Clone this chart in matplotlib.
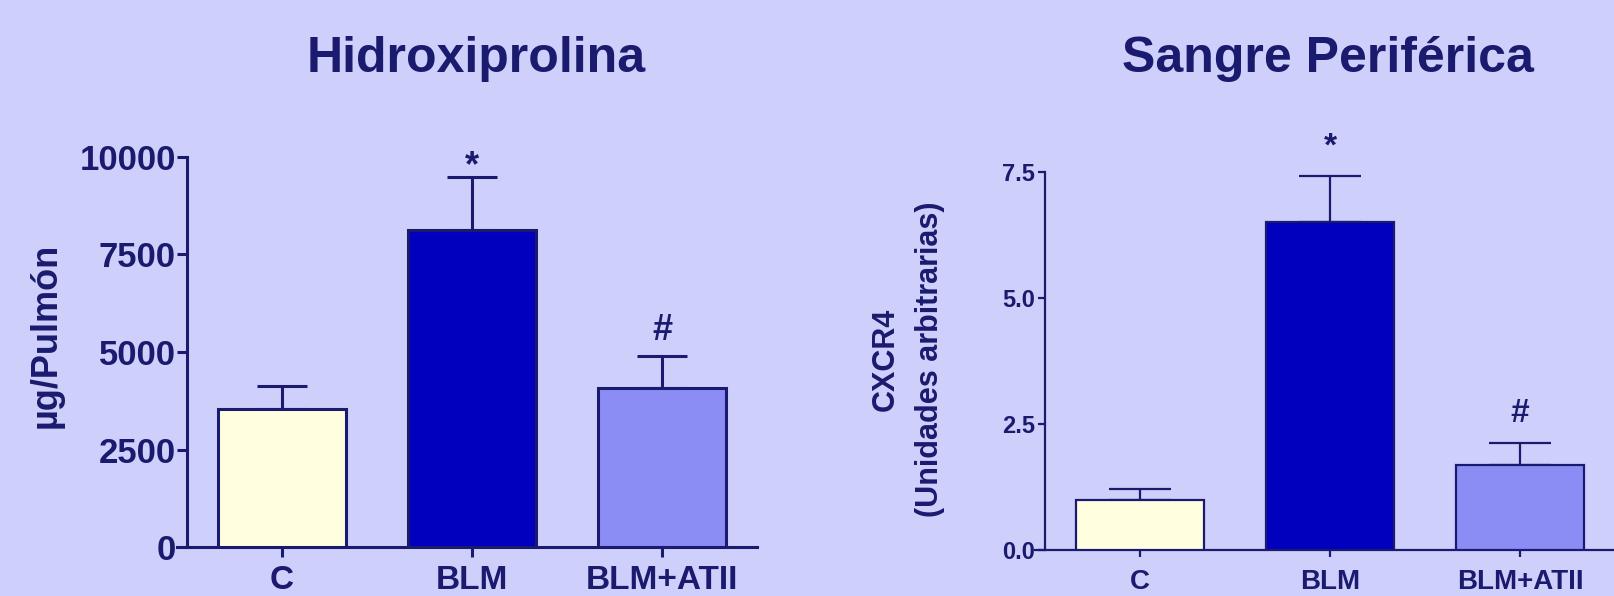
import matplotlib
matplotlib.use("Agg")
from matplotlib import pyplot as plt

# data
groups = ["C", "BLM", "BLM+ATII"]
hidroxi_mean = [3530, 8130, 4080]
hidroxi_err = [600, 1350, 830]
hidroxi_marks = ["", "*", "#"]
cxcr4_mean = [1.0, 6.5, 1.69]
cxcr4_err = [0.21, 0.93, 0.43]
cxcr4_marks = ["", "*", "#"]

bg = "#cfcffb"
navy = "#1a1a6e"
bar_colors = ["#ffffe0", "#0000be", "#8c8cf5"]

plt.rcParams["font.family"] = ["Liberation Sans", "DejaVu Sans"]
plt.rcParams["font.weight"] = "bold"

fig = plt.figure(figsize=(16.14, 5.96), dpi=100, facecolor=bg)


def panel(ax, means, errs, marks, lw, cap, ylim, yticks, yfmt, yfs, xfs, xpad, ticklen, mark_offs, mark_fs):
    x = list(range(len(groups)))
    ax.set_facecolor(bg)
    ax.bar(x, means, width=0.67, color=bar_colors, edgecolor=navy, linewidth=lw, zorder=3)
    ax.errorbar(x, means, yerr=[[0] * len(errs), errs], fmt="none", ecolor=navy,
                elinewidth=lw, capsize=cap, capthick=lw, zorder=2)
    for xi, m, e, s, off in zip(x, means, errs, marks, mark_offs):
        if s:
            ax.annotate(s, (xi, m + e), xytext=(0, off), textcoords="offset points",
                        ha="center", va="bottom", fontsize=mark_fs, color=navy,
                        fontweight="bold", annotation_clip=False)
    # x axis pokes out a little left of the y axis, like GraphPad
    ax.set_xlim(-0.553, 2.5)
    ax.spines["left"].set_position(("data", -0.5))
    ax.set_ylim(*ylim)
    ax.set_yticks(yticks)
    ax.set_yticklabels([yfmt.format(v) for v in yticks])
    ax.set_xticks(x)
    ax.set_xticklabels(groups)
    for side in ("top", "right"):
        ax.spines[side].set_visible(False)
    for side in ("left", "bottom"):
        ax.spines[side].set_color(navy)
        ax.spines[side].set_linewidth(lw)
    ax.tick_params(axis="y", colors=navy, length=ticklen, width=lw, labelsize=yfs, pad=1)
    ax.tick_params(axis="x", colors=navy, length=ticklen, width=lw, labelsize=xfs, pad=xpad)
    for t in ax.get_xticklabels() + ax.get_yticklabels():
        t.set_fontweight("bold")
        t.set_color(navy)


ax1 = fig.add_axes([177 / 1614, 0.0822, 580 / 1614, 0.6544])
panel(ax1, hidroxi_mean, hidroxi_err, hidroxi_marks, 2.2, 18, (0, 10000),
      [0, 2500, 5000, 7500, 10000], "{:d}", 25, 24, 6, 7, [0, -5, 5.5], 26)

ax2 = fig.add_axes([1035 / 1614, 0.0772, 580 / 1614, 0.6342])
panel(ax2, cxcr4_mean, cxcr4_err, cxcr4_marks, 1.6, 22, (0, 7.5),
      [0.0, 2.5, 5.0, 7.5], "{:.1f}", 17, 20, 9, 5, [0, 9.5, 10], 24)
ax2.tick_params(axis="y", pad=2)

fig.text(0.295, 0.879, "Hidroxiprolina", ha="center", va="baseline",
         fontsize=36, fontweight="bold", color=navy)
fig.text(0.8228, 0.879, "Sangre Periférica", ha="center", va="baseline",
         fontsize=36, fontweight="bold", color=navy)
fig.text(0.0285, 0.438, "µg/Pulmón", ha="center", va="center", rotation=90,
         fontsize=26, fontweight="bold", color=navy)
fig.text(0.5625, 0.3977, "CXCR4\n(Unidades arbitrarias)", ha="center", va="center",
         rotation=90, fontsize=22, fontweight="bold", color=navy, linespacing=1.6,
         multialignment="center")

fig.savefig("out.png", dpi=100, facecolor=bg)
